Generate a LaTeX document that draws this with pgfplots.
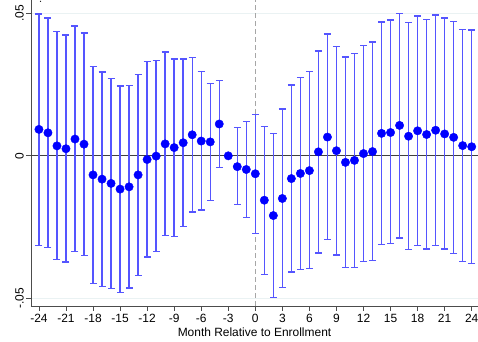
\documentclass[border=0pt]{standalone}
\usepackage{pgfplots}
\pgfplotsset{compat=1.18}
\usepackage{pgfplotstable}
\usepackage{fontspec}
\setmainfont{Liberation Sans}
\definecolor{sblue}{RGB}{0,0,255}
\definecolor{ebar}{RGB}{85,85,255}
\definecolor{gridc}{RGB}{234,242,243}

\pgfplotstableread{
x y lo hi
-24 0.0093 -0.0316 0.0499
-23 0.0081 -0.0323 0.0485
-22 0.0035 -0.0364 0.0438
-21 0.0025 -0.0374 0.0425
-20 0.0059 -0.0337 0.0457
-19 0.0041 -0.0350 0.0432
-18 -0.0067 -0.0448 0.0315
-17 -0.0082 -0.0459 0.0295
-16 -0.0097 -0.0466 0.0272
-15 -0.0117 -0.0481 0.0245
-14 -0.0109 -0.0465 0.0248
-13 -0.0067 -0.0420 0.0285
-12 -0.0013 -0.0356 0.0332
-11 -0.0001 -0.0337 0.0335
-10 0.0042 -0.0281 0.0365
-9 0.0029 -0.0283 0.0340
-8 0.0046 -0.0249 0.0340
-7 0.0074 -0.0198 0.0346
-6 0.0052 -0.0190 0.0296
-5 0.0049 -0.0157 0.0255
-4 0.0112 -0.0041 0.0265
-3 0.0000 0.0000 0.0000
-2 -0.0038 -0.0171 0.0099
-1 -0.0048 -0.0216 0.0121
0 -0.0063 -0.0274 0.0146
1 -0.0156 -0.0418 0.0104
2 -0.0210 -0.0499 0.0079
3 -0.0150 -0.0464 0.0164
4 -0.0080 -0.0409 0.0249
5 -0.0062 -0.0400 0.0276
6 -0.0052 -0.0397 0.0296
7 0.0014 -0.0342 0.0369
8 0.0066 -0.0295 0.0428
9 0.0018 -0.0349 0.0384
10 -0.0023 -0.0393 0.0347
11 -0.0016 -0.0392 0.0359
12 0.0008 -0.0372 0.0387
13 0.0015 -0.0369 0.0400
14 0.0079 -0.0311 0.0471
15 0.0082 -0.0309 0.0478
16 0.0107 -0.0289 0.0501
17 0.0069 -0.0330 0.0468
18 0.0088 -0.0315 0.0492
19 0.0075 -0.0328 0.0480
20 0.0090 -0.0316 0.0495
21 0.0077 -0.0328 0.0485
22 0.0065 -0.0344 0.0472
23 0.0036 -0.0371 0.0444
24 0.0032 -0.0378 0.0443
}\datatable

\begin{document}
\begin{tikzpicture}
\begin{axis}[
  scale only axis,
  width=447bp, height=306bp,
  xmin=-24.88, xmax=24.7,
  ymin=-0.0528, ymax=0.0548,
  axis x line*=bottom, axis y line*=left,
  axis line style={black!70, line width=0.8bp},
  tick align=outside,
  major tick length=5bp,
  tick style={black!70, line width=0.8bp},
  xtick={-24,-21,...,24},
  xticklabels={-24,-21,-18,-15,-12,-9,-6,-3,0,3,6,9,12,15,18,21,24},
  ytick={-0.05,0,0.05},
  yticklabels={-.05,0,.05},
  yticklabel style={rotate=90, anchor=south, inner sep=2bp},
  ymajorgrids,
  grid style={gridc, line width=0.8bp},
  ticklabel style={font=\fontsize{12}{14}\selectfont},
  xlabel={Month Relative to Enrollment},
  xlabel style={font=\fontsize{12}{14}\selectfont, yshift=2bp},
  clip=false,
]
\addplot[black!75, line width=0.9bp] coordinates {(-24.88,0) (24.7,0)};
\addplot[black!35, dashed, line width=1bp, dash pattern=on 5bp off 3bp] coordinates {(0,-0.0528) (0,0.0548)};
\addplot[only marks, mark=*, mark size=4.2bp, color=sblue, mark options={fill=sblue, draw=sblue},
  error bars/.cd, y dir=both, y explicit,
  error bar style={line width=1.4bp, color=ebar},
  error mark options={rotate=90, mark size=3.5bp, line width=1.4bp, color=ebar}]
  table[x=x, y=y, y error plus expr=\thisrow{hi}-\thisrow{y}, y error minus expr=\thisrow{y}-\thisrow{lo}] {\datatable};
\end{axis}
\pgfresetboundingbox
\path[use as bounding box] (current axis.south west) ++(-31bp,-36bp) rectangle (current axis.north east);
\end{tikzpicture}
\end{document}
